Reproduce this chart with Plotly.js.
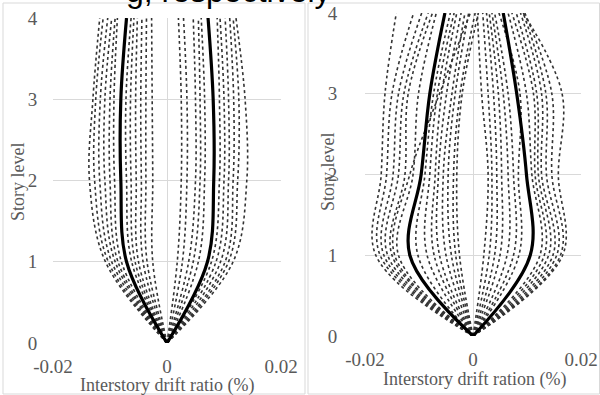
<!DOCTYPE html>
<html>
<head>
<meta charset="utf-8">
<script src="https://cdn.plot.ly/plotly-3.0.1.min.js"></script>
<style>html,body{margin:0;padding:0;background:#fff;}#chart{width:600px;height:395px;}</style>
</head>
<body>
<div id="chart"></div>
<script>
// Story levels (y values)
const storyLevels = [0, 1, 2, 3, 4];
const xTickVals = [-0.02, 0, 0.02];
const xTickText = ['-0.02', '0', '0.02'];
const yTickVals = [0, 1, 2, 3, 4];
const yTickText = ['0', '1', '2', '3', '4'];
const leftXTitle = 'Interstory drift ratio (%)';
const rightXTitle = 'Interstory drift ration (%)';
const yTitle = 'Story level';
const captionText = 'g, respectively';

// Left panel: individual records (dotted), negative side
const leftNeg = [
  [0, -0.0108, -0.0136, -0.0130, -0.0118],
  [0, -0.0103, -0.0127, -0.0125, -0.0112],
  [0, -0.0097, -0.0118, -0.0117, -0.0104],
  [0, -0.0091, -0.0109, -0.0109, -0.0097],
  [0, -0.0086, -0.0100, -0.0100, -0.0091],
  [0, -0.0080, -0.0092, -0.0093, -0.0087],
  [0, -0.0062, -0.0071, -0.0072, -0.0063],
  [0, -0.0056, -0.0063, -0.0064, -0.0058],
  [0, -0.0050, -0.0054, -0.0055, -0.0052],
  [0, -0.0042, -0.0045, -0.0046, -0.0044],
  [0, -0.0035, -0.0037, -0.0037, -0.0036],
  [0, -0.0025, -0.0025, -0.0026, -0.0027]
];
// Left panel: individual records (dotted), positive side
const leftPos = [
  [0, 0.0018, 0.0025, 0.0025, 0.0020],
  [0, 0.0027, 0.0035, 0.0035, 0.0029],
  [0, 0.0038, 0.0050, 0.0050, 0.0046],
  [0, 0.0046, 0.0058, 0.0058, 0.0055],
  [0, 0.0055, 0.0066, 0.0066, 0.0060],
  [0, 0.0078, 0.0092, 0.0092, 0.0088],
  [0, 0.0086, 0.0100, 0.0100, 0.0093],
  [0, 0.0094, 0.0108, 0.0108, 0.0102],
  [0, 0.0102, 0.0116, 0.0117, 0.0110],
  [0, 0.0108, 0.0124, 0.0126, 0.0116],
  [0, 0.0116, 0.0140, 0.0137, 0.0121]
];
// Left panel: mean curves (solid)
const leftMeanNeg = [0, -0.0071, -0.0081, -0.0081, -0.0071];
const leftMeanPos = [0, 0.0071, 0.0082, 0.0081, 0.0072];

// Right panel: individual records (dotted), negative side
const rightNeg = [
  [0, -0.0180, -0.0170, -0.0163, -0.0142],
  [0, -0.0172, -0.0160, -0.0150, -0.0110],
  [0, -0.0165, -0.0148, -0.0138, -0.0095],
  [0, -0.0158, -0.0138, -0.0128, -0.0083],
  [0, -0.0150, -0.0126, -0.0120, -0.0075],
  [0, -0.0145, -0.0117, -0.0062, -0.0005],
  [0, -0.0138, -0.0111, -0.0101, -0.0068],
  [0, -0.0102, -0.0089, -0.0073, -0.0042],
  [0, -0.0085, -0.0080, -0.0066, -0.0035],
  [0, -0.0072, -0.0070, -0.0058, -0.0030],
  [0, -0.0062, -0.0064, -0.0049, -0.0022],
  [0, -0.0050, -0.0055, -0.0039, -0.0015],
  [0, -0.0040, -0.0046, -0.0033, -0.0008],
  [0, -0.0032, -0.0036, -0.0024, 0.0004],
  [0, -0.0025, -0.0030, -0.0020, 0.0010]
];
// Right panel: individual records (dotted), positive side
const rightPos = [
  [0, 0.0020, 0.0028, 0.0016, 0.0008],
  [0, 0.0030, 0.0035, 0.0028, 0.0018],
  [0, 0.0040, 0.0044, 0.0038, 0.0025],
  [0, 0.0050, 0.0053, 0.0047, 0.0030],
  [0, 0.0063, 0.0065, 0.0056, 0.0035],
  [0, 0.0075, 0.0075, 0.0065, 0.0040],
  [0, 0.0085, 0.0084, 0.0087, 0.0048],
  [0, 0.0124, 0.0109, 0.0099, 0.0065],
  [0, 0.0132, 0.0115, 0.0112, 0.0072],
  [0, 0.0140, 0.0121, 0.0118, 0.0080],
  [0, 0.0148, 0.0127, 0.0127, 0.0088],
  [0, 0.0155, 0.0136, 0.0135, 0.0093],
  [0, 0.0162, 0.0146, 0.0146, 0.0096],
  [0, 0.0166, 0.0158, 0.0165, 0.0093]
];
// Right panel: mean curves (solid)
const rightMeanNeg = [0, -0.0117, -0.0096, -0.0080, -0.0052];
const rightMeanPos = [0, 0.0106, 0.0099, 0.0081, 0.0056];

const W = 600, H = 395;
const px = v => v / W;
const py = v => 1 - v / H;

const traces = [];
function addCurve(vals, xa, ya, solid) {
  traces.push({
    x: vals, y: storyLevels, xaxis: xa, yaxis: ya,
    type: 'scatter', mode: 'lines', hoverinfo: 'skip', showlegend: false,
    line: solid ? {color: '#000', width: 3.2, shape: 'spline', smoothing: 1}
                : {color: '#333333', width: 1.6, dash: 'dot', shape: 'spline', smoothing: 1}
  });
}
leftNeg.forEach(c => addCurve(c, 'x', 'y', false));
leftPos.forEach(c => addCurve(c, 'x', 'y', false));
rightNeg.forEach(c => addCurve(c, 'x2', 'y2', false));
rightPos.forEach(c => addCurve(c, 'x2', 'y2', false));
addCurve(leftMeanNeg, 'x', 'y', true);
addCurve(leftMeanPos, 'x', 'y', true);
addCurve(rightMeanNeg, 'x2', 'y2', true);
addCurve(rightMeanPos, 'x2', 'y2', true);

const tickFont = {family: 'Liberation Serif, Times New Roman, serif', size: 19, color: '#595959'};
const titleFont = {family: 'Liberation Serif, Times New Roman, serif', size: 18, color: '#595959'};

function xAxis(dom, anchor) {
  return {domain: dom, anchor: anchor, range: [-0.02, 0.02], tickvals: xTickVals, ticktext: xTickText,
    showgrid: true, gridcolor: '#d9d9d9', gridwidth: 1, zeroline: false, showline: false,
    ticks: 'outside', ticklen: 6, tickcolor: 'rgba(0,0,0,0)', tickfont: tickFont, fixedrange: true, automargin: false};
}
function yAxis(dom, anchor, standoff) {
  return {domain: dom, anchor: anchor, range: [0, 4], tickvals: yTickVals, ticktext: yTickText,
    showgrid: true, gridcolor: '#d9d9d9', gridwidth: 1, zeroline: false, showline: false,
    ticks: 'outside', ticklen: standoff, tickcolor: 'rgba(0,0,0,0)', tickfont: tickFont, fixedrange: true, automargin: false};
}

const layout = {
  width: W, height: H,
  margin: {l: 0, r: 0, t: 0, b: 0},
  paper_bgcolor: '#fff', plot_bgcolor: '#fff',
  showlegend: false,
  xaxis: xAxis([px(53), px(281)], 'y'),
  yaxis: yAxis([1 - 343 / H, 1 - 18 / H], 'x', 11),
  xaxis2: xAxis([px(365), px(581)], 'y2'),
  yaxis2: yAxis([1 - 336 / H, 1 - 13 / H], 'x2', 23),
  shapes: [
    {type: 'rect', xref: 'paper', yref: 'paper', x0: px(3), x1: px(305), y0: py(394), y1: py(3), line: {color: '#d9d9d9', width: 1}},
    {type: 'rect', xref: 'paper', yref: 'paper', x0: px(308), x1: px(599.5), y0: py(394), y1: py(3), line: {color: '#d9d9d9', width: 1}}
  ],
  annotations: [
    {xref: 'paper', yref: 'paper', x: px(167), y: py(385), text: leftXTitle, showarrow: false, xanchor: 'center', yanchor: 'middle', font: titleFont},
    {xref: 'paper', yref: 'paper', x: px(474), y: py(379), text: rightXTitle, showarrow: false, xanchor: 'center', yanchor: 'middle', font: titleFont},
    {xref: 'paper', yref: 'paper', x: px(18), y: py(182), text: yTitle, textangle: -90, showarrow: false, xanchor: 'center', yanchor: 'middle', font: titleFont},
    {xref: 'paper', yref: 'paper', x: px(328), y: py(172), text: yTitle, textangle: -90, showarrow: false, xanchor: 'center', yanchor: 'middle', font: titleFont},
    {xref: 'paper', yref: 'paper', x: px(124), y: py(11), text: captionText, showarrow: false, xanchor: 'left', yanchor: 'bottom', font: {family: 'Liberation Sans, Arial, sans-serif', size: 32, color: '#000'}}
  ]
};

Plotly.newPlot('chart', traces, layout, {staticPlot: true, displayModeBar: false});
</script>
</body>
</html>
